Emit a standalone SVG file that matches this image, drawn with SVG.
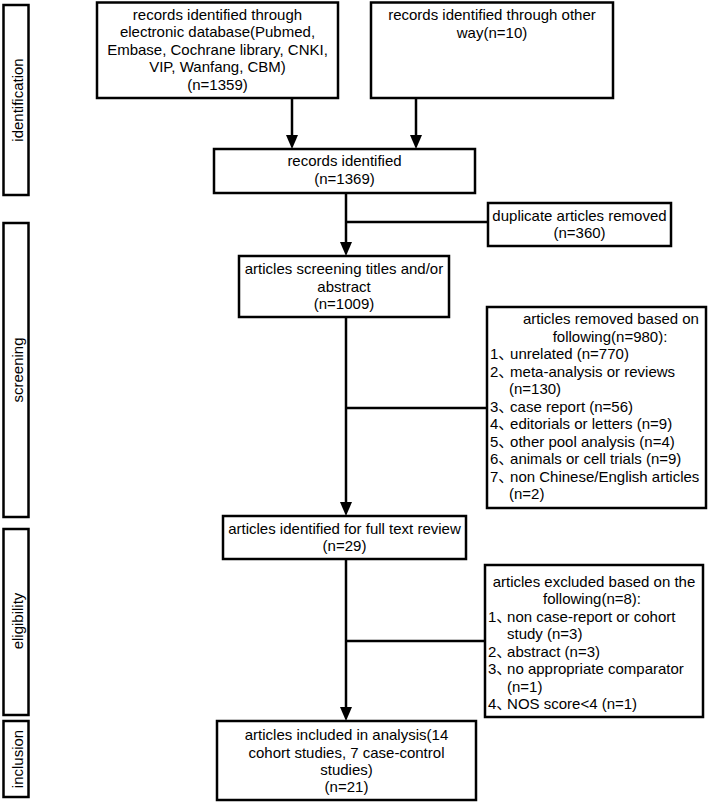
<svg xmlns="http://www.w3.org/2000/svg" width="708" height="803" viewBox="0 0 708 803">
<style>
  .box { fill: #ffffff; stroke: #000000; stroke-width: 2.5; }
  .t { font-family: "Liberation Sans", Arial, "Noto Sans CJK SC", sans-serif; font-size: 15px; fill: #000000; }
  .c { text-anchor: middle; }
  .conn { stroke: #000000; stroke-width: 2.5; fill: none; }
  .p1 { letter-spacing: -3.3px; }
  .p2 { letter-spacing: -4.3px; }
</style>
<rect width="708" height="803" fill="#ffffff"/>

<g id="stage-identification">
  <rect class="box" x="3.5" y="5" width="25" height="190"/>
  <text class="t c" transform="translate(23,100) rotate(-90)">identification</text>
</g>
<g id="stage-screening">
  <rect class="box" x="3.5" y="223" width="25" height="294"/>
  <text class="t c" transform="translate(23,370) rotate(-90)">screening</text>
</g>
<g id="stage-eligibility">
  <rect class="box" x="3.5" y="529" width="25" height="186"/>
  <text class="t c" transform="translate(23,621) rotate(-90)">eligibility</text>
</g>
<g id="stage-inclusion">
  <rect class="box" x="3.5" y="721" width="25" height="76"/>
  <text class="t c" transform="translate(23,759) rotate(-90)">inclusion</text>
</g>

<g id="connectors">
  <line class="conn" x1="292" y1="98" x2="292" y2="136"/>
  <polygon points="286,135 298,135 292,149" fill="#000"/>
  <line class="conn" x1="416" y1="98" x2="416" y2="136"/>
  <polygon points="410,135 422,135 416,149" fill="#000"/>
  <line class="conn" x1="346" y1="193" x2="346" y2="243"/>
  <polygon points="340,242 352,242 346,256" fill="#000"/>
  <line class="conn" x1="346" y1="222" x2="488" y2="222"/>
  <line class="conn" x1="346" y1="317" x2="346" y2="503"/>
  <polygon points="340,502 352,502 346,516" fill="#000"/>
  <line class="conn" x1="346" y1="408" x2="487" y2="408"/>
  <line class="conn" x1="346" y1="559" x2="346" y2="708"/>
  <polygon points="340,707 352,707 346,721" fill="#000"/>
  <line class="conn" x1="346" y1="641" x2="485" y2="641"/>
</g>

<g id="records-database">
  <rect class="box" x="97" y="2.5" width="241" height="95.5"/>
  <text class="t c" x="217.5" y="19.5">records identified through</text>
  <text class="t c" x="217.5" y="37">electronic database(Pubmed,</text>
  <text class="t c" x="217.5" y="54.5">Embase, Cochrane library, CNKI,</text>
  <text class="t c" x="217.5" y="72">VIP, Wanfang, CBM)</text>
  <text class="t c" x="217.5" y="89.5">(n=1359)</text>
</g>

<g id="records-other">
  <rect class="box" x="371" y="2.5" width="242" height="95.5"/>
  <text class="t c" x="492" y="20">records identified through other</text>
  <text class="t c" x="492" y="37.5">way(n=10)</text>
</g>

<g id="records-identified">
  <rect class="box" x="214" y="149" width="261" height="44"/>
  <text class="t c" x="344.5" y="166">records identified</text>
  <text class="t c" x="344.5" y="184">(n=1369)</text>
</g>

<g id="duplicates-removed">
  <rect class="box" x="488" y="203" width="183" height="43"/>
  <text class="t c" x="579.5" y="220.5">duplicate articles removed</text>
  <text class="t c" x="579.5" y="238">(n=360)</text>
</g>

<g id="screening-titles">
  <rect class="box" x="239" y="256" width="210" height="61"/>
  <text class="t c" x="344" y="274">articles screening titles and/or</text>
  <text class="t c" x="344" y="291.5">abstract</text>
  <text class="t c" x="344" y="309">(n=1009)</text>
</g>

<g id="articles-removed">
  <rect class="box" x="487" y="307" width="219" height="201"/>
  <text class="t c" x="611" y="324">articles removed based on</text>
  <text class="t c" x="610" y="341.5">following(n=980):</text>
  <text class="t" x="490" y="359">1<tspan class="p1">、</tspan>unrelated (n=770)</text>
  <text class="t" x="490" y="376.5">2<tspan class="p1">、</tspan>meta-analysis or reviews</text>
  <text class="t" x="509" y="394">(n=130)</text>
  <text class="t" x="490" y="411.5">3<tspan class="p1">、</tspan>case report (n=56)</text>
  <text class="t" x="490" y="429">4<tspan class="p1">、</tspan>editorials or letters (n=9)</text>
  <text class="t" x="490" y="446.5">5<tspan class="p1">、</tspan>other pool analysis (n=4)</text>
  <text class="t" x="490" y="464">6<tspan class="p1">、</tspan>animals or cell trials (n=9)</text>
  <text class="t" x="490" y="481.5">7<tspan class="p1">、</tspan>non Chinese/English articles</text>
  <text class="t" x="509" y="499">(n=2)</text>
</g>

<g id="full-text-review">
  <rect class="box" x="223" y="516" width="243" height="43"/>
  <text class="t c" x="344.5" y="533.5">articles identified for full text review</text>
  <text class="t c" x="344.5" y="551">(n=29)</text>
</g>

<g id="articles-excluded">
  <rect class="box" x="485" y="565" width="218" height="152"/>
  <text class="t c" x="594" y="586.5">articles excluded based on the</text>
  <text class="t c" x="592" y="604">following(n=8):</text>
  <text class="t" x="488" y="621.5">1<tspan class="p2">、</tspan>non case-report or cohort</text>
  <text class="t" x="507" y="639">study (n=3)</text>
  <text class="t" x="488" y="656.5">2<tspan class="p2">、</tspan>abstract (n=3)</text>
  <text class="t" x="488" y="674">3<tspan class="p2">、</tspan>no appropriate comparator</text>
  <text class="t" x="507" y="691.5">(n=1)</text>
  <text class="t" x="488" y="709">4<tspan class="p2">、</tspan>NOS score&lt;4 (n=1)</text>
</g>

<g id="included">
  <rect class="box" x="217" y="721" width="259" height="79"/>
  <text class="t c" x="346.5" y="740">articles included in analysis(14</text>
  <text class="t c" x="346.5" y="757.5">cohort studies, 7 case-control</text>
  <text class="t c" x="346.5" y="775">studies)</text>
  <text class="t c" x="346.5" y="792">(n=21)</text>
</g>
</svg>
